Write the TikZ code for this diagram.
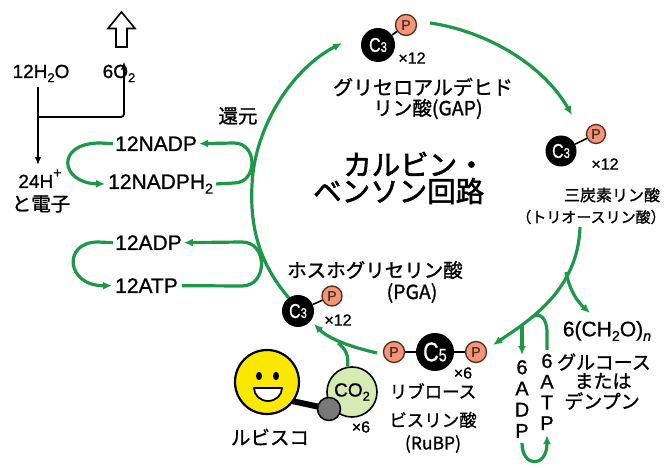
\documentclass[tikz,border=0pt]{standalone}
\usepackage{fontspec}
\setmainfont[FakeBold=1.2]{Noto Sans CJK JP}
\newfontfamily\titlefont[FakeBold=2]{Noto Sans CJK JP}
\newfontfamily\latinsans[FakeBold=0.9]{Liberation Sans}
\newfontfamily\narrowsans[FakeStretch=0.8,FakeBold=0.6]{Liberation Sans}
\usetikzlibrary{arrows.meta}
\definecolor{cyc}{RGB}{28,152,72}
\definecolor{pfill}{RGB}{240,150,120}
\definecolor{pline}{RGB}{90,40,30}
\definecolor{cofill}{RGB}{214,234,180}
\definecolor{yel}{RGB}{250,232,0}
\definecolor{ball}{RGB}{120,120,120}
\newcommand\subidx[1]{\raisebox{-0.22em}{\scalebox{0.68}{#1}}}
\newcommand\supidx[1]{\raisebox{0.55em}{\scalebox{0.75}{#1}}}
\newcommand\cthree{{\narrowsans\fontsize{20}{20}\selectfont C\fontsize{14}{14}\selectfont 3}}
\newcommand\cfive{{\narrowsans\fontsize{27}{27}\selectfont C\fontsize{18}{18}\selectfont 5}}
\begin{document}
\begin{tikzpicture}[x=1pt,y=-1pt,
  flowline/.style={draw=cyc,line width=3.2pt},
  flow/.style={flowline,-{Latex[length=9pt,width=8pt]}},
  blk/.style={line width=1.8pt,-{Latex[length=8pt,width=6.5pt]}},
  carbon/.style={circle,fill=black,inner sep=0pt,text=white},
  phos/.style={circle,draw=pline,fill=pfill,line width=1.3pt,minimum size=21pt,inner sep=0pt,text=pline,font=\latinsans\fontsize{14}{14}\selectfont},
  bond/.style={line width=1.6pt},
  jp/.style={font=\fontsize{19.5}{22}\selectfont,inner sep=0pt},
  jpsmall/.style={font=\fontsize{15}{18}\selectfont,inner sep=0pt},
  lat/.style={font=\latinsans\fontsize{21}{24}\selectfont,inner sep=0pt},
  latsmall/.style={font=\latinsans\fontsize{19}{22}\selectfont,inner sep=0pt},
  mult/.style={font=\latinsans\fontsize{16}{16}\selectfont,inner sep=0pt},
  stack/.style={font=\latinsans\fontsize{20}{21.2}\selectfont,inner sep=0pt,align=center},
  title/.style={font=\titlefont\fontsize{28.5}{30}\selectfont,inner sep=0pt,anchor=west},
]
\useasboundingbox (0,0) rectangle (665,468);

% ---------- water splitting (light reactions) ----------
\draw[line width=1.6pt,fill=white,line join=miter]
  (121.5,12) -- (135,28.5) -- (127,28.5) -- (127,47) -- (116,47) -- (116,28.5) -- (108,28.5) -- cycle;
\node[latsmall,anchor=base] (h2o) at (41,78) {12H\subidx{2}O};
\node[latsmall,anchor=base] (o2) at (119,78) {6O\subidx{2}};
\node[latsmall,anchor=base] (hplus) at (40,188) {24H\supidx{+}};
\node[jp] (elec) at (41,204) {と電子};
\coordinate (split) at (38,117);
\draw[blk] (h2o.south -| split) ++(0,5) -- ([yshift=4pt]hplus.north -| split);
\draw[blk,rounded corners=3pt] (split) -- (124,117) -- ([yshift=3pt]o2.north -| 124,0);

% ---------- cofactor loops ----------
\node[lat,anchor=base west] (nadp) at (115,151) {12NADP};
\node[lat,anchor=base west] (nadph) at (108,189) {12NADPH\subidx{2}};
\node[lat,anchor=base west] (adp) at (115,250) {12ADP};
\node[lat,anchor=base west] (atp) at (115,293) {12ATP};
\node[jp] (reduce) at (238,116) {還元};

\draw[flow] ([xshift=3pt]nadph.east) -- (234,183) .. controls (258,183) and (258,143) .. (234,143) -- ([xshift=2pt]nadp.east);
\draw[flow] ([xshift=-2pt]nadp.west) -- (100,143) .. controls (55,143) and (60,183) .. ([xshift=-3pt]nadph.west);
\draw[flow] ([xshift=4pt]atp.east) -- (242,286) .. controls (268,286) and (268,242) .. (242,242) -- ([xshift=2pt]adp.east);
\draw[flow] ([xshift=-2pt]adp.west) -- (98,242) .. controls (62,242) and (66,286) .. ([xshift=-3pt]atp.west);

% ---------- molecules of the cycle ----------
\node[carbon,minimum size=34pt] (gapC) at (378,45) {\cthree};
\node[phos] (gapP) at (406,25) {P};
\draw[bond] (gapC) -- (gapP);
\node[mult] (gapN) at (412,58) {×12};
\node[jp,font=\fontsize{20}{22}\selectfont] (gap1) at (423,87) {グリセロアルデヒド};
\node[jp] (gap2) at (428,109) {リン酸(GAP)};

\node[carbon,minimum size=31pt] (triC) at (561,151) {\cthree};
\node[phos,minimum size=19pt] (triP) at (596,134) {P};
\draw[bond] (triC) -- (triP);
\node[mult] (triN) at (605,164) {×12};
\node[jpsmall,font=\fontsize{16}{18}\selectfont] (tri1) at (612,195) {三炭素リン酸};
\node[jpsmall] (tri2) at (591,217) {（トリオースリン酸）};

\node[carbon,minimum size=32pt] (pgaC) at (298,311) {\cthree};
\node[phos,minimum size=20pt] (pgaP) at (332,296) {P};
\draw[bond] (pgaC) -- (pgaP);
\node[mult] (pgaN) at (338,320) {×12};
\node[jp] (pga1) at (375,270) {ホスホグリセリン酸};
\node[jp] (pga2) at (412,293) {(PGA)};

\node[carbon,minimum size=38pt] (rubC) at (435,352) {\cfive};
\node[phos] (rubL) at (394,352) {P};
\node[phos] (rubR) at (476,352) {P};
\draw[bond] (rubL) -- (rubC);
\draw[bond] (rubC) -- (rubR);
\node[mult] (rubN) at (463,373) {×6};
\node[jp,font=\fontsize{17.5}{20}\selectfont] (rub1) at (433,391) {リブロース};
\node[jp,font=\fontsize{17.5}{20}\selectfont] (rub2) at (433,420) {ビスリン酸};
\node[jp,font=\fontsize{17.5}{20}\selectfont] (rub3) at (433,444) {(RuBP)};

\node[title] (title1) at (343,164) {カルビン・};
\node[title] (title2) at (313,191) {ベンソン回路};

% ---------- products ----------
\node[lat] (glc0) at (607,331) {6(CH\subidx{2}O)\subidx{\textit{n}}};
\node[jp,font=\fontsize{19}{22}\selectfont] (glc1) at (604,362) {グルコース};
\node[jp,font=\fontsize{19}{22}\selectfont] (glc2) at (603,381) {または};
\node[jp,font=\fontsize{19}{22}\selectfont] (glc3) at (602,401) {デンプン};
\node[stack] (adpv) at (522,399) {6\\A\\D\\P};
\node[stack,font=\latinsans\fontsize{20}{20.7}\selectfont] (atpv) at (547,392) {6\\A\\T\\P};

% ---------- rubisco and CO2 ----------
\node[circle,draw,line width=1.6pt,fill=cofill,minimum size=50pt,inner sep=0pt,
      font=\latinsans\fontsize{19}{19}\selectfont] (co2) at (352,392) {CO\subidx{2}};
\node[mult] (co2N) at (361,427) {×6};
\draw[line width=6pt] (292,401) -- (329,409);
\draw[line width=2.2pt,fill=yel] (267,382) circle (32);
\fill (259,376) ellipse (3 and 4.2);
\fill (276,376) ellipse (3 and 4.2);
\draw[line width=1.8pt,fill=white,line join=round] (254,388) -- (282,388)
  arc[start angle=0,end angle=180,x radius=14,y radius=13] -- cycle;
\draw[line width=1.5pt,fill=ball] (329,409) circle (11.5);
\node[jp] (rubisco) at (270,437) {ルビスコ};

% ---------- cycle arrows ----------
\coordinate (gapin) at (342,43);
\coordinate (gapout) at (430,23);
\coordinate (triin) at (572,115);
\coordinate (triout) at (580,227);
\coordinate (rubin) at (493,345);
\coordinate (rubout) at (377,353);
\coordinate (pgain) at (314,324);
\coordinate (glcin) at (590,313);

\draw[flow] (pgaC.125) .. controls (258,262) and (250,225) .. (252,185)
  .. controls (254,130) and (290,70) .. (gapin);
\draw[flow] (gapout) .. controls (480,30) and (540,60) .. (triin);
\draw[flow] (triout) .. controls (578,290) and (530,320) .. (rubin);
\draw[flow] (566,272) .. controls (570,292) and (578,302) .. (glcin);
\draw[flow] (522,326) -- ([yshift=5pt]adpv.north);
\draw[flowline] ([yshift=4pt]atpv.north) -- (547,333) .. controls (547,318) and (540,312) .. (532,317);
\draw[flow] ([yshift=-5pt]adpv.south) .. controls (522,468) and (547,468) .. ([yshift=-5pt]atpv.south);
\draw[flow] (rubout) .. controls (355,348) and (330,340) .. (pgain);
\draw[flowline] (co2.100) .. controls (349,356) and (346,349) .. (338,343);
\end{tikzpicture}
\end{document}
